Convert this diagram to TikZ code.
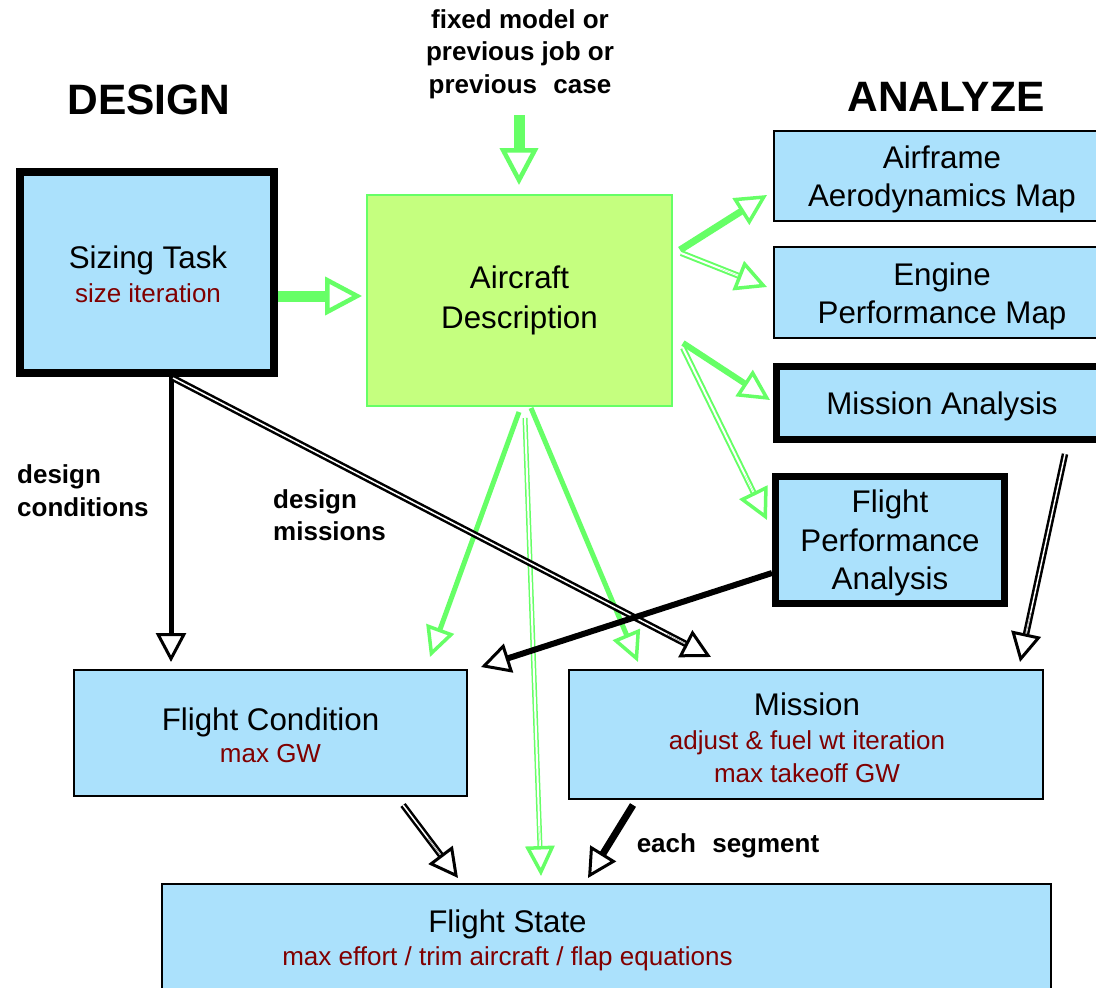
\documentclass[tikz,border=0pt]{standalone}
\usepackage{fontspec}
\setmainfont{Liberation Sans}
\usetikzlibrary{arrows.meta,calc}
\definecolor{boxblue}{RGB}{171,225,252}
\definecolor{adfill}{RGB}{197,255,127}
\definecolor{agreen}{RGB}{102,255,102}
\definecolor{dred}{RGB}{128,0,0}
\newcommand\subt[1]{{\color{dred}\fontsize{26}{30}\selectfont #1}}
\newcommand\conn[4]{\draw[#1] (#3) -- (#4); \draw[#2] ($(#4)!50pt!(#3)$) -- (#4);}
\begin{document}
\begin{tikzpicture}[x=1pt,y=-1pt,
  box/.style={draw=black, fill=boxblue, line width=2pt, inner sep=0pt},
  txt/.style={inner sep=0pt, align=center},
  lbl/.style={inner sep=0pt, align=center, font=\bfseries\fontsize{26}{32.5}\selectfont},
  ttl/.style={inner sep=0pt, font=\bfseries\fontsize{42.5}{42.5}\selectfont},
  gsolid/.style n args={2}{draw=agreen, line width=#1pt, shorten >=#2pt},
  gdbl/.style n args={2}{draw=agreen, line width=#1pt, double=white, double distance=2pt, shorten >=#2pt},
  ksolid/.style n args={2}{draw=black, line width=#1pt, shorten >=#2pt},
  kdbl/.style n args={2}{draw=black, line width=#1pt, double=white, double distance=1.5pt, shorten >=#2pt},
  headg/.style n args={3}{draw=agreen, line width=0.1pt, -{Triangle[fill=white, length=#1pt, width=#2pt, line width=#3pt]}},
  headk/.style n args={3}{draw=black, line width=0.1pt, -{Triangle[fill=white, length=#1pt, width=#2pt, line width=#3pt]}}
]
\useasboundingbox (0,0) rectangle (1096,988);
\fill[white] (0,0) rectangle (1096,988);
\clip (0,0) rectangle (1096,988);

% titles and labels
\node[ttl] (dz) at (149,100) {DESIGN};
\node[ttl] (an) at (946,97) {ANALYZE};
\node[lbl] (fx) at (520,54) {fixed model or\\previous job or\\previous\hspace{0.35em} case};
\node[lbl, align=left, anchor=west] (dc) at (17,490.5) {design\\conditions};
\node[lbl, align=left, anchor=west] (dm) at (273,515) {design\\missions};
\node[lbl] (es) at (728,846) {each\hspace{0.35em} segment};

% boxes
\node[box, line width=8pt, minimum width=254pt, minimum height=201pt] (sz) at (147,272.5) {};
\node[draw=agreen, fill=adfill, line width=2pt, inner sep=0pt, minimum width=305pt, minimum height=211pt] (ad) at (519.5,300.5) {};
\node[box, minimum width=336pt, minimum height=90pt] (af) at (942,176) {};
\node[box, minimum width=336pt, minimum height=91pt] (en) at (942,292.5) {};
\node[box, line width=7pt, minimum width=331pt, minimum height=73pt] (ma) at (942,403) {};
\node[box, line width=7pt, minimum width=229pt, minimum height=127pt] (fp) at (890,540) {};
\node[box, minimum width=393pt, minimum height=126pt] (fc) at (270.5,733) {};
\node[box, minimum width=474pt, minimum height=129pt] (mi) at (806,734.5) {};
\node[box, minimum width=889pt, minimum height=126pt] (fs) at (606.5,947) {};

% box texts
\node[txt, font=\fontsize{31.3}{34}\selectfont] (szt) at ($(sz.center)+(1,1.5)$) {Sizing Task\\\subt{size iteration}};
\node[txt, font=\fontsize{31.3}{40}\selectfont] (adt) at ($(ad.center)+(0,0)$) {Aircraft\\Description};
\node[txt, font=\fontsize{31.3}{38}\selectfont] (aft) at ($(af.center)+(0,3)$) {Airframe\\Aerodynamics Map};
\node[txt, font=\fontsize{31.3}{38}\selectfont] (ent) at ($(en.center)+(0,4)$) {Engine\\Performance Map};
\node[txt, font=\fontsize{31.3}{38}\selectfont] (mat) at ($(ma.center)+(0,3)$) {Mission Analysis};
\node[txt, font=\fontsize{31.3}{38.5}\selectfont] (fpt) at ($(fp.center)+(0,3)$) {Flight\\Performance\\Analysis};
\node[txt, font=\fontsize{31.3}{32}\selectfont] (fct) at ($(fc.center)+(0,2)$) {Flight Condition\\\subt{max GW}};
\node[txt, font=\fontsize{31.3}{33.5}\selectfont] (mit) at ($(mi.center)+(1,3.5)$) {Mission\\\subt{adjust \& fuel wt iteration}\\\subt{max takeoff GW}};
\node[txt, font=\fontsize{31.3}{33}\selectfont] (fst) at (507.5,940.5) {Flight State\\\subt{max effort / trim aircraft / flap equations}};

% connector end points
\coordinate (a1s) at (519,115);
\coordinate (a1e) at ($(ad.north)+(-0.5,-9)$);
\coordinate (a2s) at ($(sz.east)+(0,23.5)$);
\coordinate (a2e) at ($(ad.west)+(-4,-4.5)$);
\coordinate (a3s) at ($(ad.east)+(7,-50.5)$);
\coordinate (a3e) at ($(af.west)+(-6,19)$);
\coordinate (a4s) at ($(ad.east)+(8,-47.5)$);
\coordinate (a4e) at ($(en.west)+(-6,-5.5)$);
\coordinate (a5s) at ($(ad.east)+(10,42.5)$);
\coordinate (a5e) at ($(ma.west)+(-3,-3)$);
\coordinate (a6s) at ($(ad.east)+(10,47.5)$);
\coordinate (a6e) at ($(fp.west)+(-5,-20)$);
\coordinate (a7s) at ($(ad.south)+(-0.5,5)$);
\coordinate (a7e) at ($(fc.north)+(159.5,-12)$);
\coordinate (a8s) at ($(ad.south)+(5.5,11)$);
\coordinate (a8e) at ($(fs.north)+(-65.5,-7)$);
\coordinate (a9s) at ($(ad.south)+(11.5,1)$);
\coordinate (a9e) at ($(mi.north)+(-168,-7)$);
\coordinate (b1s) at ($(sz.south)+(24,0)$);
\coordinate (b1e) at ($(fc.north)+(-99.5,-7)$);
\coordinate (b2s) at ($(sz.south)+(26,1)$);
\coordinate (b2e) at ($(mi.north)+(-95,-12)$);
\coordinate (b3s) at ($(fp.west)+(0,33)$);
\coordinate (b3e) at ($(fc.north east)+(13,-2)$);
\coordinate (b4s) at ($(ma.south)+(123,11)$);
\coordinate (b4e) at ($(mi.north)+(214,-7)$);
\coordinate (b5s) at ($(fc.south)+(132.5,8)$);
\coordinate (b5e) at ($(fs.north)+(-148.5,-5)$);
\coordinate (b6s) at ($(mi.south)+(-173,5)$);
\coordinate (b6e) at ($(fs.north)+(-18.5,-5)$);

% green connectors
\conn{gsolid={11}{22}}{headg={37}{38}{4.5}}{a1s}{a1e}
\conn{gsolid={11}{22}}{headg={37}{38}{4.5}}{a2s}{a2e}
\conn{gsolid={7}{18}}{headg={31}{31}{3.5}}{a3s}{a3e}
\conn{gdbl={2}{18}}{headg={31}{31}{3.5}}{a4s}{a4e}
\conn{gsolid={6}{18}}{headg={31}{31}{3.5}}{a5s}{a5e}
\conn{gdbl={2}{18}}{headg={31}{31}{3.5}}{a6s}{a6e}
\conn{gsolid={5}{18}}{headg={30}{29}{3.5}}{a7s}{a7e}
\conn{gdbl={1.5}{18}}{headg={30}{29}{3.5}}{a8s}{a8e}
\conn{gsolid={5}{18}}{headg={30}{29}{3.5}}{a9s}{a9e}

% black connectors
\conn{ksolid={5}{18}}{headk={29}{30}{3}}{b1s}{b1e}
\conn{kdbl={2.5}{18}}{headk={29}{30}{3}}{b2s}{b2e}
\conn{ksolid={6}{18}}{headk={29}{30}{3}}{b3s}{b3e}
\conn{kdbl={2.5}{18}}{headk={29}{30}{3}}{b4s}{b4e}
\conn{kdbl={2.5}{18}}{headk={29}{30}{3}}{b5s}{b5e}
\conn{ksolid={7}{18}}{headk={29}{30}{3}}{b6s}{b6e}
\end{tikzpicture}
\end{document}
